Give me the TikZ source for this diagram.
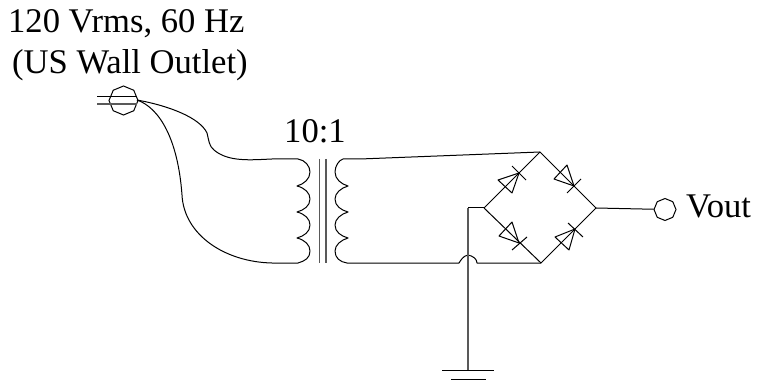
\documentclass[tikz,border=0pt]{standalone}
\usepackage{fontspec}
\setmainfont{Liberation Serif}
\usetikzlibrary{shapes.geometric}
\tikzset{
 wire/.style={line width=1pt,black,line join=round},
 core/.style={line width=1.2pt,black!65},
 term/.style={draw,line width=1pt,regular polygon,regular polygon sides=8,inner sep=0pt,minimum size=#1,shape border rotate=22.5},
 lbl/.style={font=\fontsize{34.6}{34.6}\selectfont,inner sep=0pt,anchor=base west}
}
\newcommand{\diodesym}[5]{% apex, base1, base2, bar1, bar2
 \draw[wire] (#2) -- (#3) -- (#1) -- cycle;
 \draw[wire] (#4) -- (#5);
}
\begin{document}
\begin{tikzpicture}[x=1pt,y=-1pt]
\useasboundingbox (0,0) rectangle (759,387);
\node[lbl] (t1) at (8,33) {120 Vrms, 60 Hz};
\node[lbl] (t2) at (12,74) {(US Wall Outlet)};
\node[lbl] (t3) at (284,143) {10:1};
\node[lbl] (t4) at (686,218) {Vout};
% outlet
\node[term=29pt] (plug) at (123.5,100.5) {};
\coordinate (pL1) at (97,97); \coordinate (pR1) at (137,97);
\coordinate (pL2) at (97,104); \coordinate (pR2) at (137,104);
\coordinate (src) at (137,100);
\draw[wire] (pL1) -- (pR1);
\draw[core] (pL2) -- (pR2);
% primary
\coordinate (pt) at (298,159); \coordinate (pb) at (298,263);
\coordinate (pc1) at (297,186); \coordinate (pc2) at (297,212); \coordinate (pc3) at (297,238);
\draw[wire] (src) .. controls (170,106) and (200,118) .. (207,133)
  .. controls (209,141) and (209,146) .. (214,150)
  .. controls (228,162) and (250,160) .. (272,159) -- (pt);
\draw[wire] (src) .. controls (160,108) and (178,140) .. (182,195)
  .. controls (184,235) and (225,262) .. (272,263) -- (pb);
\draw[wire] (pt) .. controls (305,160) and (310,166) .. (310,172) .. controls (310,179) and (304,184) .. (pc1)
  .. controls (305,188) and (310,193) .. (310,199) .. controls (310,206) and (304,210) .. (pc2)
  .. controls (305,214) and (310,219) .. (310,225) .. controls (310,232) and (304,236) .. (pc3)
  .. controls (305,240) and (310,245) .. (310,251) .. controls (310,258) and (305,261) .. (pb);
% core
\coordinate (c1t) at (319.5,159); \coordinate (c1b) at (319.5,263);
\coordinate (c2t) at (326,159); \coordinate (c2b) at (326,263);
\draw[core] (c1t) -- (c1b);
\draw[core] (c2t) -- (c2b);
% secondary
\coordinate (st) at (343,159); \coordinate (sb) at (347,263);
\coordinate (sc1) at (348,186); \coordinate (sc2) at (348,212); \coordinate (sc3) at (348,238);
\coordinate (top) at (540,152); \coordinate (bot) at (541,263);
\coordinate (lft) at (484,208); \coordinate (rgt) at (596,208);
\coordinate (hopa) at (459,263); \coordinate (hopm) at (468,255); \coordinate (hopb) at (477,263);
\draw[wire] (top) -- (360,159) -- (st)
  .. controls (339,160) and (335,166) .. (335,172) .. controls (335,179) and (341,184) .. (sc1)
  .. controls (341,188) and (335,193) .. (335,199) .. controls (335,206) and (341,210) .. (sc2)
  .. controls (341,214) and (335,219) .. (335,225) .. controls (335,232) and (341,236) .. (sc3)
  .. controls (341,240) and (335,245) .. (335,251) .. controls (335,258) and (340,262) .. (sb)
  -- (hopa) .. controls (461,260) and (463,256) .. (hopm) .. controls (473,256) and (477,259) .. (hopb) -- (bot);
% bridge
\draw[wire] (lft) -- (top) -- (rgt) -- (bot) -- (lft);
\diodesym{519,173}{498,180}{512,193}{512,166}{526,180}
\diodesym{574,186}{567,165}{554,179}{567,193}{581,179}
\diodesym{519,243}{512,222}{499,236}{512,250}{527,237}
\diodesym{575,229}{555,237}{569,250}{568,223}{583,237}
% output
\node[term=22pt] (out) at (665,209.5) {};
\draw[wire] (rgt) -- (out);
% ground
\coordinate (gj) at (468,208); \coordinate (g) at (468,370);
\coordinate (g1l) at (442,370); \coordinate (g1r) at (494,370);
\coordinate (g2l) at (451,379); \coordinate (g2r) at (486,379);
\draw[wire] (lft) -- (gj);
\draw[core] (gj) -- (g);
\draw[wire] (g1l) -- (g1r);
\draw[wire] (g2l) -- (g2r);
\end{tikzpicture}
\end{document}
